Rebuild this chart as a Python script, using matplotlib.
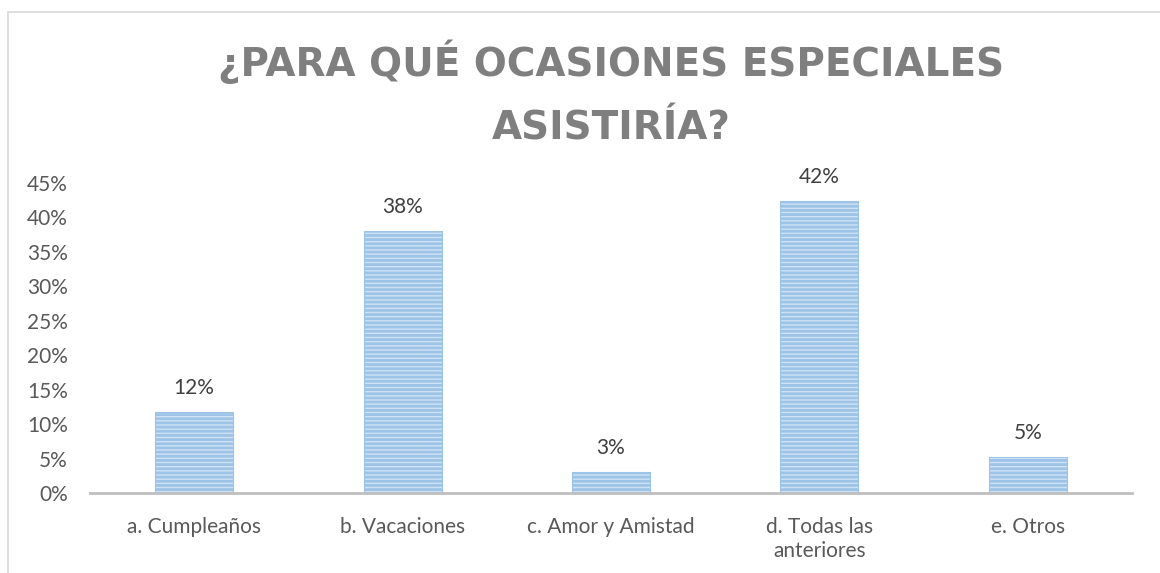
import matplotlib.pyplot as plt
from matplotlib.patches import Rectangle

plt.rcParams['font.family'] = ['Lato', 'DejaVu Sans']
plt.rcParams['hatch.color'] = '#5b9bd5'
plt.rcParams['hatch.linewidth'] = 2.0

categories = ['a. Cumpleaños', 'b. Vacaciones', 'c. Amor y Amistad',
              'd. Todas las\nanteriores', 'e. Otros']
values = [0.118, 0.380, 0.030, 0.424, 0.052]
labels = ['12%', '38%', '3%', '42%', '5%']
yticks = [0, 0.05, 0.10, 0.15, 0.20, 0.25, 0.30, 0.35, 0.40, 0.45]
ytick_labels = ['0%', '5%', '10%', '15%', '20%', '25%', '30%', '35%', '40%', '45%']

fig = plt.figure(figsize=(11.6, 5.73), dpi=100)
fig.patches.append(Rectangle((8 / 1160, -0.01), 1.1, 1 - 12 / 573 + 0.01,
                             transform=fig.transFigure, fill=False,
                             edgecolor='#d9d9d9', linewidth=1.2))
ax = fig.add_axes([90 / 1160, 1 - 493 / 573, 1042 / 1160, 310 / 573])

x = range(len(categories))
ax.bar(x, values, width=0.375, color='#cfe2f5', edgecolor='#9dc3e6',
       linewidth=0.8, hatch='----')

for xi, v, lab in zip(x, values, labels):
    ax.annotate(lab, (xi, v), xytext=(0, 10), textcoords='offset points',
                ha='center', va='bottom', fontsize=15, color='#404040')

ax.set_xlim(-0.5, len(categories) - 0.5)
ax.set_ylim(0, 0.45)
ax.set_yticks(yticks)
ax.set_yticklabels(ytick_labels)
ax.set_xticks(list(x))
ax.set_xticklabels(categories, linespacing=1.25)
ax.tick_params(axis='y', length=0, pad=16, labelsize=15, labelcolor='#595959')
ax.tick_params(axis='x', length=0, pad=17, labelsize=15, labelcolor='#595959')
for s in ['left', 'right', 'top']:
    ax.spines[s].set_visible(False)
ax.spines['bottom'].set_color('#bfbfbf')
ax.spines['bottom'].set_linewidth(2)

fig.text(0.527, 1 - 94 / 573, '¿PARA QUÉ OCASIONES ESPECIALES\nASISTIRÍA?',
         ha='center', va='center', fontsize=28, fontweight='bold',
         color='#7f7f7f', linespacing=1.85, family=['DejaVu Sans'])

fig.savefig('out.png', dpi=100)
